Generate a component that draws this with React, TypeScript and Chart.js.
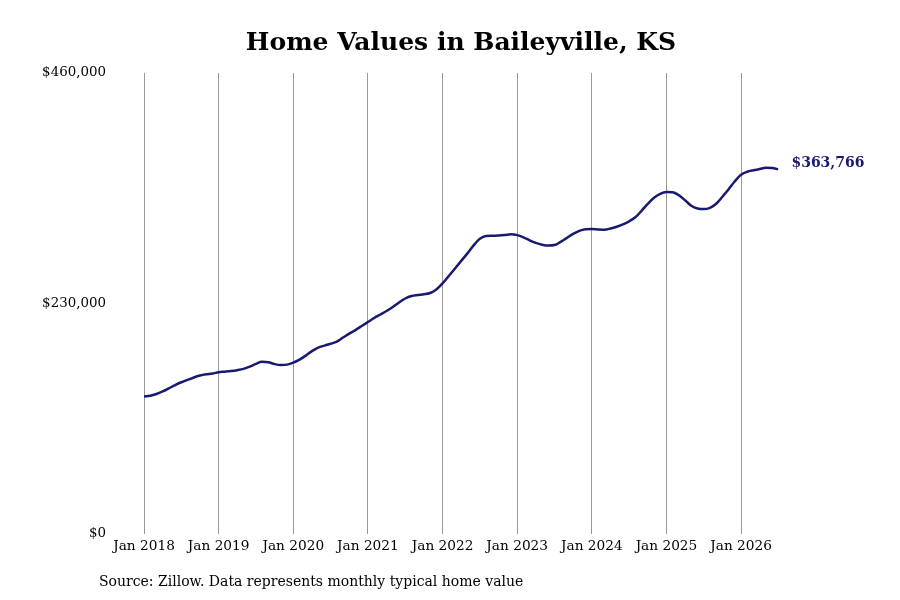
import { Chart, ChartConfiguration, Plugin } from "chart.js/auto";
import { useEffect, useRef } from "react";

// monthly typical home value, Jan 2018 .. Jul 2026
const values2018 = [137200, 137900, 139700, 142300, 145400, 148600, 151400, 153800, 156200, 158100, 159300, 160100];
const values2019 = [161500, 162000, 162600, 163500, 164800, 167000, 169800, 171800, 171300, 169500, 168600, 169000];
const values2020 = [171000, 174000, 178000, 182500, 186000, 188000, 189800, 192000, 196000, 200000, 203500, 207500];
const values2021 = [211500, 215500, 219000, 222500, 226500, 231000, 235000, 237500, 238500, 239200, 240500, 244000];
const values2022 = [250000, 257500, 265000, 272500, 280000, 288000, 294500, 297300, 297600, 297900, 298400, 299000];
const values2023 = [298200, 296000, 293000, 290500, 288700, 287800, 288300, 291500, 295500, 299500, 302500, 304000];
const values2024 = [304300, 303900, 303600, 304800, 306600, 309000, 312000, 316000, 322500, 329500, 335500, 339500];
const values2025 = [341200, 341000, 338000, 333000, 327500, 324800, 324200, 325500, 329500, 336500, 344000, 352000];
const values2026 = [358500, 361500, 363000, 364200, 365400, 365200, 363766];

const homeValues = [
  ...values2018, ...values2019, ...values2020, ...values2021, ...values2022,
  ...values2023, ...values2024, ...values2025, ...values2026,
];

const yearLabels = ["Jan 2018", "Jan 2019", "Jan 2020", "Jan 2021", "Jan 2022", "Jan 2023", "Jan 2024", "Jan 2025", "Jan 2026"];
const yTicks = [0, 230000, 460000];

const titleText = "Home Values in Baileyville, KS";
const sourceText = "Source: Zillow. Data represents monthly typical home value";
const lineColor = "#191970";
const fontFamily = "'DejaVu Serif', serif";

const fmt = (v: number) => "$" + v.toLocaleString("en-US");

const textPlugin: Plugin<"line"> = {
  id: "texts",
  afterDraw(chart) {
    const ctx = chart.ctx;
    ctx.save();
    ctx.fillStyle = "#000";
    ctx.font = `bold 25px ${fontFamily}`;
    ctx.textAlign = "center";
    ctx.textBaseline = "middle";
    ctx.fillText(titleText, 461, 43);

    ctx.font = `14px ${fontFamily}`;
    ctx.textAlign = "left";
    ctx.fillText(sourceText, 99, 582);

    // end label next to the last point
    const meta = chart.getDatasetMeta(0);
    const last = meta.data[meta.data.length - 1];
    ctx.fillStyle = lineColor;
    ctx.font = `bold 14px ${fontFamily}`;
    ctx.fillText(fmt(homeValues[homeValues.length - 1]), last.x + 13, last.y - 6);
    ctx.restore();
  },
};

const App = () => {
  const chartRef = useRef<HTMLCanvasElement>(null);

  useEffect(() => {
    let chartInstance: Chart | null = null;
    if (chartRef.current) {
      const config: ChartConfiguration<"line"> = {
        type: "line",
        data: {
          datasets: [
            {
              data: homeValues.map((v, i) => ({ x: i, y: v })),
              borderColor: lineColor,
              borderWidth: 2.5,
              pointRadius: 0,
              tension: 0.4,
              cubicInterpolationMode: "monotone",
              fill: false,
            },
          ],
        },
        plugins: [textPlugin],
        options: {
          animation: false,
          responsive: false,
          devicePixelRatio: 1,
          layout: { padding: { top: 73, right: 121.6, left: 0, bottom: 0 } },
          plugins: { legend: { display: false }, tooltip: { enabled: false }, title: { display: false } },
          scales: {
            x: {
              type: "linear",
              min: -5.47,
              max: homeValues.length - 1,
              afterBuildTicks: (scale) => {
                scale.ticks = yearLabels.map((_, i) => ({ value: i * 12 }));
              },
              afterFit: (scale) => {
                scale.height = 66;
              },
              ticks: {
                autoSkip: false,
                maxRotation: 0,
                padding: 4,
                color: "#000",
                font: { family: fontFamily, size: 13.7 },
                callback: (v) => yearLabels[Number(v) / 12] ?? "",
              },
              grid: { color: "#999", lineWidth: 1, drawTicks: false },
              border: { display: false },
            },
            y: {
              min: 0,
              max: 460000,
              afterBuildTicks: (scale) => {
                scale.ticks = yTicks.map((v) => ({ value: v }));
              },
              afterFit: (scale) => {
                scale.width = 110;
              },
              ticks: {
                padding: 4,
                color: "#000",
                font: { family: fontFamily, size: 13.4 },
                callback: (v) => fmt(Number(v)),
              },
              grid: { display: false, drawTicks: false },
              border: { display: false },
            },
          },
        },
      };
      chartInstance = new Chart(chartRef.current, config);
    }
    return () => {
      if (chartInstance) chartInstance.destroy();
    };
  }, []);

  return (
    <div style={{ position: "fixed", left: 0, top: 0, width: 900, height: 600, background: "#fff" }}>
      <canvas ref={chartRef} width={900} height={600} style={{ width: 900, height: 600 }} />
    </div>
  );
};

export default App;
